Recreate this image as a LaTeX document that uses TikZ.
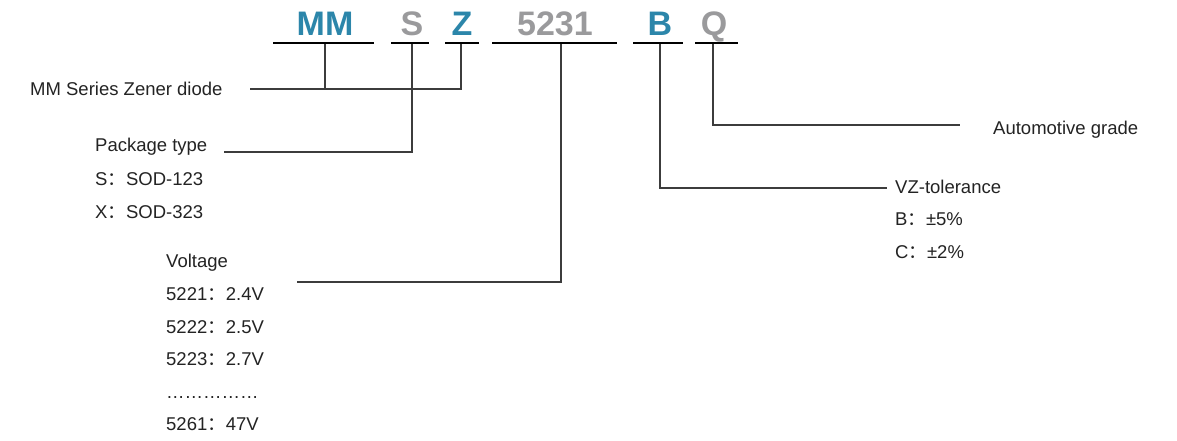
\documentclass[tikz,border=0pt]{standalone}
\usepackage{fontspec}
\setmainfont{Liberation Sans}
\newfontfamily\cjk{Noto Sans CJK SC}
\definecolor{codeblue}{RGB}{44,134,170}
\definecolor{codegray}{RGB}{154,154,156}
\definecolor{linegray}{RGB}{60,60,60}
\definecolor{txt}{RGB}{35,35,35}
\newcommand{\fc}{{\cjk ：}}
\begin{document}
\begin{tikzpicture}[x=1pt,y=-1pt,
  code/.style={font=\fontsize{34}{36}\selectfont\bfseries, anchor=base, inner sep=0pt},
  lbl/.style={font=\fontsize{18.5}{21}\selectfont, anchor=base west, inner sep=0pt, text=txt},
  uline/.style={line width=2.4pt, black},
  conn/.style={line width=1.3pt, linegray}]
\useasboundingbox (0,0) rectangle (1177,440);
% code letters
\node[code, text=codeblue] (mm) at (325,35) {MM};
\node[code, text=codegray] (s) at (412,35) {S};
\node[code, text=codeblue] (z) at (462,35) {Z};
\node[code, text=codegray] (num) at (555,35) {5231};
\node[code, text=codeblue] (b) at (660,35) {B};
\node[code, text=codegray] (q) at (714,35) {Q};
% underlines
\coordinate (mmL) at (273,43); \coordinate (mmR) at (374,43);
\coordinate (sL) at (391,43); \coordinate (sR) at (429,43);
\coordinate (zL) at (445,43); \coordinate (zR) at (479,43);
\coordinate (nL) at (492,43); \coordinate (nR) at (617,43);
\coordinate (bL) at (633,43); \coordinate (bR) at (683,43);
\coordinate (qL) at (695,43); \coordinate (qR) at (738,43);
\draw[uline] (mmL) -- (mmR);
\draw[uline] (sL) -- (sR);
\draw[uline] (zL) -- (zR);
\draw[uline] (nL) -- (nR);
\draw[uline] (bL) -- (bR);
\draw[uline] (qL) -- (qR);
\coordinate (mmT) at (325,44); \coordinate (sT) at (412,44);
\coordinate (zT) at (461,44); \coordinate (nT) at (561,44);
\coordinate (bT) at (660,44); \coordinate (qT) at (713,44);
% labels
\node[lbl] (series) at (30,95) {MM Series Zener diode};
\node[lbl] (pkg) at (95,151) {Package type};
\node[lbl] (pkgS) at (95,185) {S\fc SOD-123};
\node[lbl] (pkgX) at (95,218) {X\fc SOD-323};
\node[lbl] (volt) at (166,267) {Voltage};
\node[lbl] (v1) at (166,300) {5221\fc 2.4V};
\node[lbl] (v2) at (166,333) {5222\fc 2.5V};
\node[lbl] (v3) at (166,365) {5223\fc 2.7V};
\node[lbl] (vd) at (166,398) {……………};
\node[lbl] (v4) at (166,430) {5261\fc 47V};
\node[lbl] (auto) at (993,134) {Automotive grade};
\node[lbl] (tol) at (895,193) {VZ-tolerance};
\node[lbl] (tolB) at (895,225) {B\fc ±5\%};
\node[lbl] (tolC) at (895,258) {C\fc ±2\%};
% connector end points
\coordinate (seriesE) at (250,89);
\coordinate (pkgE) at (224,152);
\coordinate (voltE) at (297,282);
\coordinate (autoE) at (960,125);
\coordinate (tolE) at (887,188);
% connectors
\draw[conn] (mmT) -- (mmT |- seriesE);
\draw[conn] (seriesE) -| (zT);
\draw[conn] (sT) |- (pkgE);
\draw[conn] (nT) |- (voltE);
\draw[conn] (bT) |- (tolE);
\draw[conn] (qT) |- (autoE);
\end{tikzpicture}
\end{document}
